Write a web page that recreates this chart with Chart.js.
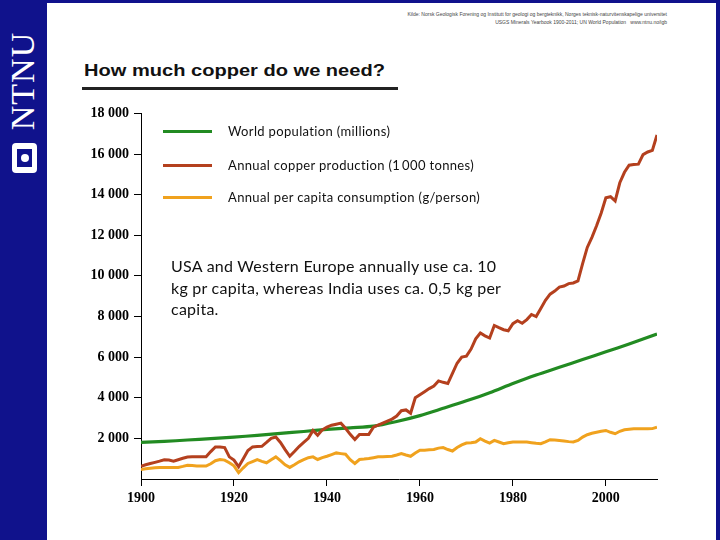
<!DOCTYPE html>
<html>
<head>
<meta charset="utf-8">
<script src="https://cdn.jsdelivr.net/npm/chart.js@4.4.1/dist/chart.umd.min.js"></script>
<style>
  html, body { margin: 0; padding: 0; }
  body { width: 720px; height: 540px; position: relative; background: #ffffff; overflow: hidden; }
  .abs { position: absolute; }
  #leftbar { left: 0; top: 0; width: 47px; height: 540px; background: #10128c; }
  #topbar { left: 0; top: 0; width: 720px; height: 3px; background: #10128c; }
  #rightbar { left: 716px; top: 0; width: 4px; height: 540px; background: #10128c; }
  #ntnu { left: 23px; top: 81px; transform: translate(-50%, -50%) rotate(-90deg); color: #ffffff;
          font-family: "Liberation Serif", serif; font-size: 34px; letter-spacing: 1px; white-space: nowrap; line-height: 1; }
  #logo { left: 12px; top: 143px; width: 25px; height: 30px; background: #ffffff; border-radius: 4px; }
  #logo .inner { position: absolute; left: 5px; top: 6px; width: 15px; height: 18px; background: #10128c; }
  #logo .dot { position: absolute; left: 3.5px; top: 5px; width: 8px; height: 8px; border-radius: 50%; background: #ffffff; }
  #source { right: 53px; top: 10px; font-family: "Liberation Sans", sans-serif; font-size: 5px; line-height: 8px; color: #444; text-align: right; white-space: nowrap; }
  #title { left: 84px; top: 61px; font-family: "Liberation Sans", Arial, sans-serif; font-weight: bold; font-size: 17px;
           color: #111; white-space: nowrap; transform: scaleX(1.18); transform-origin: left top; line-height: 20px; }
  #rule { left: 82px; top: 87px; width: 316px; height: 3px; background: #222; }
  #chartbox { left: 60px; top: 100px; width: 620px; height: 430px; }
  .legline { position: absolute; left: 163px; width: 49px; height: 3px; }
  .legtext { position: absolute; left: 228px; font-family: Lato, "Open Sans", sans-serif; font-size: 13px; letter-spacing: 0.35px; color: #111; white-space: nowrap; line-height: 16px; }
  #note { left: 171px; top: 255px; font-family: Lato, "Open Sans", sans-serif; font-size: 16px; line-height: 21.5px; color: #111; white-space: nowrap; letter-spacing: 0.25px; }
</style>
</head>
<body>
<div id="leftbar" class="abs"></div>
<div id="topbar" class="abs"></div>
<div id="rightbar" class="abs"></div>
<div id="ntnu" class="abs">NTNU</div>
<div id="logo" class="abs"><div class="inner"><div class="dot"></div></div></div>
<div id="source" class="abs">Kilde: Norsk Geologisk Forening og Institutt for geologi og bergteknikk, Norges teknisk-naturvitenskapelige universitet<br>USGS Minerals Yearbook 1900-2011; UN World Population &nbsp; www.ntnu.no/igb</div>
<div id="title" class="abs">How much copper do we need?</div>
<div id="rule" class="abs"></div>
<div id="chartbox" class="abs"><canvas id="c" width="620" height="430"></canvas></div>

<div class="legline" style="top:130px;background:rgb(34,139,34)"></div>
<div class="legtext" style="top:123px">World population (millions)</div>
<div class="legline" style="top:164px;background:rgb(180,64,30)"></div>
<div class="legtext" style="top:157px">Annual copper production (1&#8201;000 tonnes)</div>
<div class="legline" style="top:196px;background:rgb(240,162,30)"></div>
<div class="legtext" style="top:189px">Annual per capita consumption (g/person)</div>

<div id="note" class="abs">USA and Western Europe annually use ca. 10<br>kg pr capita, whereas India uses ca. 0,5 kg per<br>capita.</div>

<script>
// ---- Data ----
const popYears = [1900,1905,1910,1915,1920,1925,1930,1935,1940,1945,1950,1955,1960,1965,1970,1975,1980,1985,1990,1995,2000,2005,2011];
const population = [1800,1850,1920,1990,2060,2150,2250,2340,2440,2520,2600,2830,3120,3480,3850,4250,4700,5120,5500,5880,6260,6650,7140];

const annualYears = [];
for (let y = 1900; y <= 2011; y++) annualYears.push(y);

const copperProduction = [
  630,700,760,820,880,950,930,880,950,1020,
  1080,1090,1090,1090,1090,1350,1580,1580,1550,1090,
  930,600,1000,1400,1580,1600,1610,1800,2000,2065,
  1800,1450,1120,1350,1600,1800,2000,2390,2150,2420,
  2550,2650,2700,2750,2500,2200,1940,2195,2195,2195,
  2550,2650,2750,2850,2950,3100,3365,3400,3235,4000,
  4150,4300,4450,4580,4830,4760,4700,5200,5700,6000,
  6050,6400,6900,7185,7050,6940,7560,7450,7350,7300,
  7650,7790,7670,7850,8100,8000,8400,8800,9100,9250,
  9450,9500,9620,9650,9750,10600,11400,11900,12470,13100,
  13850,13900,13690,14585,15100,15450,15480,15500,15970,16100,
  16180,16940
];

const perCapita = [
  470,500,530,550,570,570,570,570,570,620,
  680,660,640,634,634,750,900,960,930,800,
  650,310,550,765,860,960,870,800,950,1090,
  900,700,570,700,845,950,1050,1090,960,1050,
  1120,1200,1285,1250,1220,950,765,960,980,1010,
  1050,1090,1100,1110,1120,1180,1250,1180,1120,1280,
  1415,1420,1440,1450,1520,1545,1450,1380,1550,1680,
  1770,1790,1820,1985,1870,1770,1900,1820,1740,1780,
  1820,1820,1820,1820,1790,1760,1740,1830,1935,1920,
  1900,1870,1840,1820,1900,2065,2180,2250,2300,2350,
  2390,2300,2230,2350,2425,2450,2470,2470,2470,2470,
  2480,2550
];

const seriesNames = ["World population (millions)", "Annual copper production (1 000 tonnes)", "Annual per capita consumption (g/person)"];
const xTicks = [1900, 1920, 1940, 1960, 1980, 2000];
const yTicks = [2000,4000,6000,8000,10000,12000,14000,16000,18000];

// ---- build chart ----
const toXY = (xs, ys) => xs.map((x, i) => ({ x: x, y: ys[i] }));
const tickFont = { family: "'Liberation Serif', serif", size: 14, weight: 'bold' };

new Chart(document.getElementById('c'), {
  type: 'line',
  data: {
    datasets: [
      { label: seriesNames[1], data: toXY(annualYears, copperProduction), borderColor: 'rgb(180,64,30)', borderWidth: 3, pointRadius: 0, tension: 0 },
      { label: seriesNames[0], data: toXY(popYears, population), borderColor: 'rgb(34,139,34)', borderWidth: 3.2, pointRadius: 0, tension: 0.3 },
      { label: seriesNames[2], data: toXY(annualYears, perCapita), borderColor: 'rgb(240,162,30)', borderWidth: 3, pointRadius: 0, tension: 0 }
    ]
  },
  options: {
    responsive: false,
    animation: false,
    events: [],
    layout: { padding: { top: 11, right: 23, left: 0, bottom: 0 } },
    plugins: { legend: { display: false }, tooltip: { enabled: false } },
    scales: {
      x: {
        type: 'linear',
        min: 1900, max: 2011,
        afterFit: (s) => { s.height = 51; },
        afterBuildTicks: (s) => { s.ticks = xTicks.map(v => ({ value: v })); },
        ticks: { includeBounds: false, stepSize: 20, color: '#000', font: tickFont, padding: 4, maxRotation: 0, callback: (v) => String(v) },
        grid: { drawOnChartArea: false, drawTicks: true, tickLength: 7, color: '#000', lineWidth: 1 },
        border: { display: true, color: '#000', width: 1 }
      },
      y: {
        min: 0, max: 18000,
        afterFit: (s) => { s.width = 81; },
        afterBuildTicks: (s) => { s.ticks = yTicks.map(v => ({ value: v })); },
        ticks: { stepSize: 2000, color: '#000', font: tickFont, padding: 5,
                 callback: (v) => Math.floor(v / 1000) + ' 000' },
        grid: { drawOnChartArea: false, drawTicks: true, tickLength: 7, color: '#000', lineWidth: 1 },
        border: { display: true, color: '#000', width: 1 }
      }
    }
  }
});
</script>
</body>
</html>
